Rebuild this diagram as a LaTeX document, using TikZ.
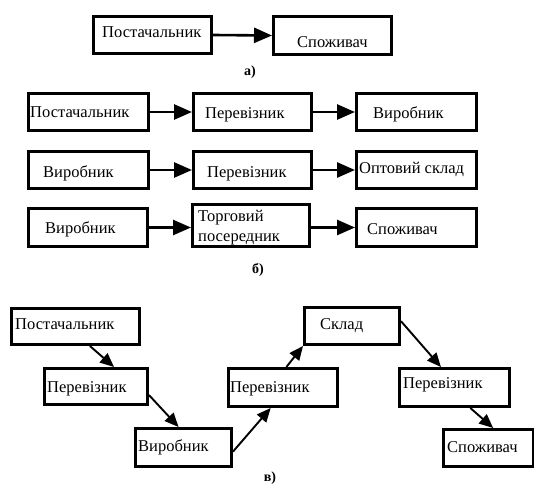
\documentclass[tikz,border=0pt]{standalone}
\usepackage{fontspec}
\setmainfont{Liberation Serif}
\usetikzlibrary{arrows.meta,calc}
\tikzset{
  box/.style={draw=black, line width=3pt, inner sep=0pt, anchor=north west},
  txt/.style={inner sep=0pt, anchor=base west, font=\fontsize{16.5}{19}\selectfont},
  caplabel/.style={inner sep=0pt, font=\fontsize{14}{16}\selectfont\bfseries},
  harr/.style={line width=2.6pt, -{Triangle[length=18pt,width=15pt]}},
  darr/.style={line width=1.9pt, -{Triangle[length=14pt,width=12pt]}}
}
\begin{document}
\begin{tikzpicture}[x=1pt,y=-1pt]
\useasboundingbox (0,0) rectangle (534,484);
% a)
\node[box, minimum width=118pt, minimum height=37pt] (a1) at (92,15) {};
\node[box, minimum width=118pt, minimum height=38pt] (a2) at (272,15) {};
\node[txt] (ta1) at (102,38) {Постачальник};
\node[txt] (ta2) at (297,48) {Споживач};
\draw[harr] (a1.east) -- (a2.west);
\node[caplabel] (la) at (250,72) {а)};
% b) row 1
\node[box, minimum width=120pt, minimum height=37pt] (b11) at (27,92) {};
\node[box, minimum width=118pt, minimum height=37pt] (b12) at (192,92) {};
\node[box, minimum width=120pt, minimum height=37pt] (b13) at (355,92) {};
\node[txt] (tb11) at (30,117) {Постачальник};
\node[txt] (tb12) at (205,118) {Перевізник};
\node[txt] (tb13) at (373,118) {Виробник};
\draw[harr] (b11.east) -- (b12.west);
\draw[harr] (b12.east) -- (b13.west);
% b) row 2
\node[box, minimum width=120pt, minimum height=37pt] (b21) at (27,150) {};
\node[box, minimum width=118pt, minimum height=37pt] (b22) at (192,150) {};
\node[box, minimum width=120pt, minimum height=37pt] (b23) at (355,150) {};
\node[txt] (tb21) at (43,177) {Виробник};
\node[txt] (tb22) at (207,177) {Перевізник};
\node[txt] (tb23) at (359,173) {Оптовий склад};
\draw[harr] (b21.east) -- (b22.west);
\draw[harr] (b22.east) -- (b23.west);
% b) row 3
\node[box, minimum width=119pt, minimum height=38pt] (b31) at (27,207) {};
\node[box, minimum width=117pt, minimum height=42pt] (b32) at (191,203) {};
\node[box, minimum width=120pt, minimum height=38pt] (b33) at (355,207) {};
\node[txt] (tb31) at (45,233) {Виробник};
\node[txt] (tb32a) at (198,221) {Торговий};
\node[txt] (tb32b) at (198,241) {посередник};
\node[txt] (tb33) at (367,234) {Споживач};
\draw[harr] (b31.east) -- (b32.west |- b31.east);
\draw[harr] (b32.east |- b33.east) -- (b33.west);
\node[caplabel] (lb) at (258,270) {б)};
% c)
\node[box, minimum width=128pt, minimum height=36pt] (c1) at (10,307) {};
\node[box, minimum width=103pt, minimum height=36pt] (c2) at (43,367) {};
\node[box, minimum width=96pt, minimum height=38pt] (c3) at (134,427) {};
\node[box, minimum width=109pt, minimum height=38pt] (c4) at (227,367) {};
\node[box, minimum width=95pt, minimum height=37pt] (c5) at (303,306) {};
\node[box, minimum width=110pt, minimum height=38pt] (c6) at (398,367) {};
\node[box, minimum width=90pt, minimum height=37pt] (c7) at (442,428) {};
\node[txt] (tc1) at (15,329) {Постачальник};
\node[txt] (tc2) at (47,392) {Перевізник};
\node[txt] (tc3) at (138,451) {Виробник};
\node[txt] (tc4) at (230,392) {Перевізник};
\node[txt] (tc5) at (320,329) {Склад};
\node[txt] (tc6) at (403,388) {Перевізник};
\node[txt] (tc7) at (447,452) {Споживач};
\draw[darr] ($(c1.south west)!0.61!(c1.south east)$) -- ($(c2.north west)!0.67!(c2.north east)$);
\draw[darr] ($(c2.north east)!0.72!(c2.south east)$) -- ($(c3.north west)!0.45!(c3.north east)$);
\draw[darr] ($(c3.north east)!0.6!(c3.south east)$) -- ($(c4.south west)!0.39!(c4.south east)$);
\draw[darr] ($(c4.north west)!0.53!(c4.north east)$) -- (c5.south west);
\draw[darr] ($(c5.north east)!0.38!(c5.south east)$) -- ($(c6.north west)!0.38!(c6.north east)$);
\draw[darr] ($(c6.south west)!0.64!(c6.south east)$) -- ($(c7.north west)!0.55!(c7.north east)$);
\node[caplabel] (lc) at (270,478) {в)};
\end{tikzpicture}
\end{document}
